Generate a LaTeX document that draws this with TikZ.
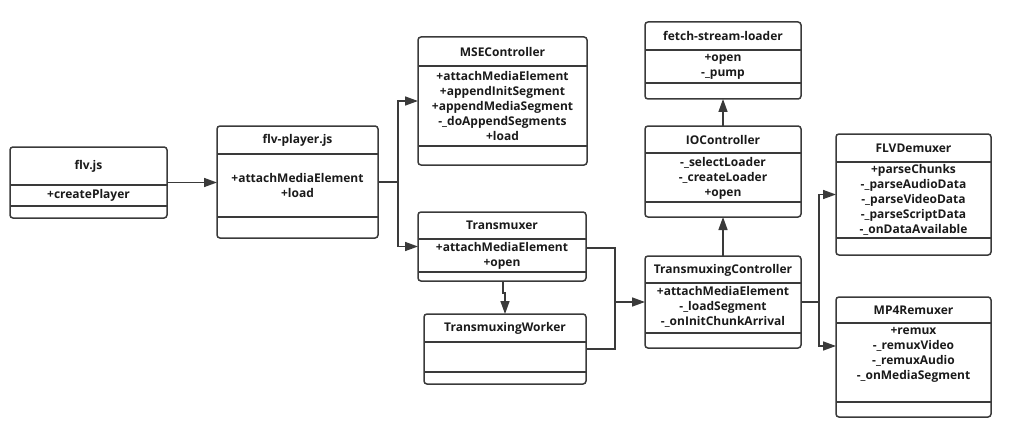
\documentclass[tikz,border=0pt]{standalone}
\usepackage{fontspec}
\setmainfont{Open Sans}
\usetikzlibrary{arrows.meta,fit,calc}
\definecolor{ln}{HTML}{3A3A3A}
\definecolor{tx}{HTML}{1A1A1A}
\tikzset{
  cls/.style={draw=ln, line width=1.5pt, rounded corners=3pt, inner sep=0pt, outer sep=0pt},
  divline/.style={draw=ln, line width=1.4pt},
  ttl/.style={text=tx, inner sep=0pt, font=\fontsize{12}{15}\selectfont\bfseries},
  mth/.style={text=tx, inner sep=0pt, align=center, font=\fontsize{12}{15}\selectfont\bfseries},
  conn/.style={draw=ln, line width=1.5pt},
  arr/.style={conn, -{Triangle[length=13pt,width=9pt]}},
}
\newcommand{\umldiv}[2]{\draw[divline] (#1.west |- 0,#2) -- (#1.east |- 0,#2);}
\begin{document}
\begin{tikzpicture}[x=1pt,y=-1pt]
\useasboundingbox (0,0) rectangle (1024,441);
% boxes
\node[cls, fit={(10,147) (167,218)}] (flvjs) {};
\umldiv{flvjs}{185}\umldiv{flvjs}{206}
\node[ttl] (flvjs-t) at (flvjs.center |- 0,166) {flv.js};
\node[mth] (flvjs-m) at (flvjs.center |- 0,195.5) {+createPlayer};

\node[cls, fit={(217,126) (378,238)}] (player) {};
\umldiv{player}{154}\umldiv{player}{217}
\node[ttl] (player-t) at (player.center |- 0,140) {flv-player.js};
\node[mth] (player-m) at (player.center |- 0,185.5) {+attachMediaElement\\+load};

\node[cls, fit={(418,37) (587,165)}] (mse) {};
\umldiv{mse}{66}\umldiv{mse}{146}
\node[ttl] (mse-t) at (mse.center |- 0,52) {MSEController};
\node[mth] (mse-m) at (mse.center |- 0,105.5) {+attachMediaElement\\+appendInitSegment\\+appendMediaSegment\\-\_doAppendSegments\\+load};

\node[cls, fit={(418,212) (586,281)}] (tmux) {};
\umldiv{tmux}{239}\umldiv{tmux}{272}
\node[ttl] (tmux-t) at (tmux.center |- 0,225.5) {Transmuxer};
\node[mth] (tmux-m) at (tmux.center |- 0,255.5) {+attachMediaElement\\+open};

\node[cls, fit={(424,314) (586,384)}] (worker) {};
\umldiv{worker}{342}\umldiv{worker}{372}
\node[ttl] (worker-t) at (worker.center |- 0,328) {TransmuxingWorker};

\node[cls, fit={(645,256) (801,348)}] (tc) {};
\umldiv{tc}{283}\umldiv{tc}{333}
\node[ttl] (tc-t) at (tc.center |- 0,270) {TransmuxingController};
\node[mth] (tc-m) at (tc.center |- 0,307) {+attachMediaElement\\-\_loadSegment\\-\_onInitChunkArrival};

\node[cls, fit={(645,126) (801,217)}] (io) {};
\umldiv{io}{153}\umldiv{io}{202}
\node[ttl] (io-t) at (io.center |- 0,140) {IOController};
\node[mth] (io-m) at (io.center |- 0,178) {-\_selectLoader\\-\_createLoader\\+open};

\node[cls, fit={(645,22) (801,99)}] (fetch) {};
\umldiv{fetch}{50}\umldiv{fetch}{83}
\node[ttl] (fetch-t) at (fetch.center |- 0,36) {fetch-stream-loader};
\node[mth] (fetch-m) at (fetch.center |- 0,66.5) {+open\\-\_pump};

\node[cls, fit={(836,134) (991,255)}] (demux) {};
\umldiv{demux}{162}\umldiv{demux}{238}
\node[ttl] (demux-t) at (demux.center |- 0,148) {FLVDemuxer};
\node[mth] (demux-m) at (demux.center |- 0,200) {+parseChunks\\-\_parseAudioData\\-\_parseVideoData\\-\_parseScriptData\\-\_onDataAvailable};

\node[cls, fit={(836,297) (991,417)}] (remux) {};
\umldiv{remux}{323}\umldiv{remux}{402}
\node[ttl] (remux-t) at (remux.center |- 0,310) {MP4Remuxer};
\node[mth] (remux-m) at (remux.center |- 0,355) {+remux\\-\_remuxVideo\\-\_remuxAudio\\-\_onMediaSegment};

% connectors
\draw[arr] (flvjs.east) -- (flvjs.east -| player.west);
\coordinate (j1) at (398,182);
\draw[conn] (player.east) -- (j1);
\draw[arr] (j1) |- (mse.west);
\draw[arr] (j1) |- (tmux.west);

\coordinate (j2) at (503,293);
\draw[arr] (tmux.south -| j2) -- (j2) -- (j2 -| worker.north) -- (worker.north);

\coordinate (j3) at (615,302);
\draw[conn] (tmux.east |- 0,248) -| (j3);
\draw[conn] (worker.east |- 0,349) -| (j3);
\draw[arr] (j3) -- (j3 -| tc.west);

\draw[arr] (tc.north) -- (io.south);
\draw[arr] (io.north) -- (fetch.south);

\coordinate (j4) at (819,302);
\draw[conn] (tc.east |- j4) -- (j4);
\draw[arr] (j4) |- (demux.west);
\draw[arr] (j4) |- (remux.west |- 0,346);
\end{tikzpicture}
\end{document}
